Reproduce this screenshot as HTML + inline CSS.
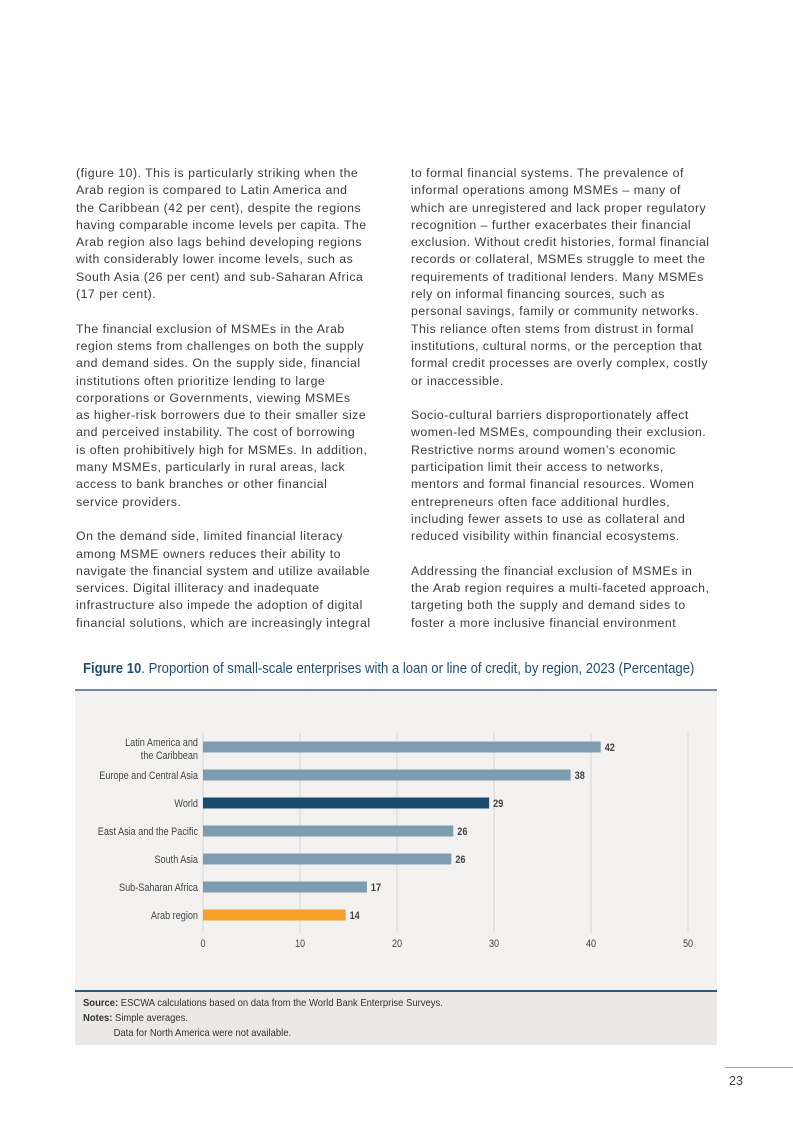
<!DOCTYPE html>
<html><head><meta charset="utf-8">
<style>
body{margin:0;width:793px;height:1121px;background:#fff;position:relative;overflow:hidden;font-family:"Liberation Sans",sans-serif;}
.col{position:absolute;top:165px;font-size:12.3px;line-height:17.3px;color:#3b3b3b;white-space:nowrap;letter-spacing:0.5px}
.col div{height:17.3px}
.sq{transform-origin:0 0;white-space:nowrap}
</style></head><body>
<div class="col" style="left:76px">
<div>(figure 10). This is particularly striking when the</div>
<div>Arab region is compared to Latin America and</div>
<div>the Caribbean (42 per cent), despite the regions</div>
<div>having comparable income levels per capita. The</div>
<div>Arab region also lags behind developing regions</div>
<div>with considerably lower income levels, such as</div>
<div>South Asia (26 per cent) and sub-Saharan Africa</div>
<div>(17 per cent).</div>
<div></div>
<div>The financial exclusion of MSMEs in the Arab</div>
<div>region stems from challenges on both the supply</div>
<div>and demand sides. On the supply side, financial</div>
<div>institutions often prioritize lending to large</div>
<div>corporations or Governments, viewing MSMEs</div>
<div>as higher-risk borrowers due to their smaller size</div>
<div>and perceived instability. The cost of borrowing</div>
<div>is often prohibitively high for MSMEs. In addition,</div>
<div>many MSMEs, particularly in rural areas, lack</div>
<div>access to bank branches or other financial</div>
<div>service providers.</div>
<div></div>
<div>On the demand side, limited financial literacy</div>
<div>among MSME owners reduces their ability to</div>
<div>navigate the financial system and utilize available</div>
<div>services. Digital illiteracy and inadequate</div>
<div>infrastructure also impede the adoption of digital</div>
<div>financial solutions, which are increasingly integral</div>
</div>
<div class="col" style="left:411px">
<div>to formal financial systems. The prevalence of</div>
<div>informal operations among MSMEs – many of</div>
<div>which are unregistered and lack proper regulatory</div>
<div>recognition – further exacerbates their financial</div>
<div>exclusion. Without credit histories, formal financial</div>
<div>records or collateral, MSMEs struggle to meet the</div>
<div>requirements of traditional lenders. Many MSMEs</div>
<div>rely on informal financing sources, such as</div>
<div>personal savings, family or community networks.</div>
<div>This reliance often stems from distrust in formal</div>
<div>institutions, cultural norms, or the perception that</div>
<div>formal credit processes are overly complex, costly</div>
<div>or inaccessible.</div>
<div></div>
<div>Socio-cultural barriers disproportionately affect</div>
<div>women-led MSMEs, compounding their exclusion.</div>
<div>Restrictive norms around women’s economic</div>
<div>participation limit their access to networks,</div>
<div>mentors and formal financial resources. Women</div>
<div>entrepreneurs often face additional hurdles,</div>
<div>including fewer assets to use as collateral and</div>
<div>reduced visibility within financial ecosystems.</div>
<div></div>
<div>Addressing the financial exclusion of MSMEs in</div>
<div>the Arab region requires a multi-faceted approach,</div>
<div>targeting both the supply and demand sides to</div>
<div>foster a more inclusive financial environment</div>
</div>

<div class="sq" style="position:absolute;left:83px;top:660px;font-size:15px;color:#1f4f72;transform:scaleX(0.874)"><b>Figure 10</b>. Proportion of small-scale enterprises with a loan or line of credit, by region, 2023 (Percentage)</div>
<div style="position:absolute;left:75px;top:689px;width:642px;height:301px;background:#f3f2f1;border-top:2px solid #6f8aa0;box-sizing:border-box"></div>
<svg id="chart" width="793" height="1121" style="position:absolute;left:0;top:0"></svg>
<div style="position:absolute;left:75px;top:990px;width:642px;height:55px;background:#ebe9e7;border-top:2px solid #35587a;box-sizing:border-box;"></div>
<div class="sq" style="position:absolute;left:83px;top:996px;font-size:10.5px;color:#333;line-height:15px;transform:scaleX(0.9)">
<div><b>Source:</b> ESCWA calculations based on data from the World Bank Enterprise Surveys.</div>
<div><b>Notes:</b> Simple averages.</div>
<div style="padding-left:34px">Data for North America were not available.</div>
</div>
<div style="position:absolute;left:725px;top:1067px;width:68px;height:1px;background:#c9a53a"></div>
<div style="position:absolute;left:729px;top:1074px;font-size:12.5px;color:#444">23</div>
<script>
const categories=["Latin America and|the Caribbean","Europe and Central Asia","World","East Asia and the Pacific","South Asia","Sub-Saharan Africa","Arab region"];
const values=[41,37.9,29.5,25.8,25.6,16.9,14.7];
const valueLabels=["42","38","29","26","26","17","14"];
const ticks=[0,10,20,30,40,50];
const colors=["#7f9db0","#7f9db0","#1c4a6b","#7f9db0","#7f9db0","#7f9db0","#f5a02a"];
const svg=document.getElementById('chart');const NS="http://www.w3.org/2000/svg";
const x=v=>203+v*(688-203)/50;
const y=i=>747+i*28;
const SX=0.86;
function mk(t,a){const e=document.createElementNS(NS,t);for(const k in a)e.setAttribute(k,a[k]);svg.appendChild(e);return e;}
function txt(tx,ty,s,anchor,extra){const e=mk('text',Object.assign({x:0,y:0,'text-anchor':anchor,'font-size':10.6,fill:'#444',transform:`translate(${tx},${ty}) scale(${SX},1)`},extra||{}));e.textContent=s;return e;}
ticks.forEach(t=>{
 if(t>0){const g=mk('line',{x1:x(t),x2:x(t),y1:733,y2:933,stroke:'#dcdcdc','stroke-width':1.3});
 
 }
 const l=txt(x(t),947,String(t),'middle');
 
 
});
const ax=mk('line',{x1:x(0),x2:x(0),y1:733,y2:933,stroke:'#d6d6d6','stroke-width':1});


categories.forEach((c,i)=>{
 const r=mk('rect',{x:x(0),y:y(i)-5.5,width:x(values[i])-x(0),height:11,fill:colors[i]});
 
 
 const v=txt(x(values[i])+4,y(i)+4,valueLabels[i],'start',{'font-weight':'bold'});
 
 
 const parts=c.split('|');
 parts.forEach((p,j)=>{const t=txt(198,y(i)+(parts.length>1?-1+j*13:4),p,'end');
 
 });
});
</script>
</body></html>
